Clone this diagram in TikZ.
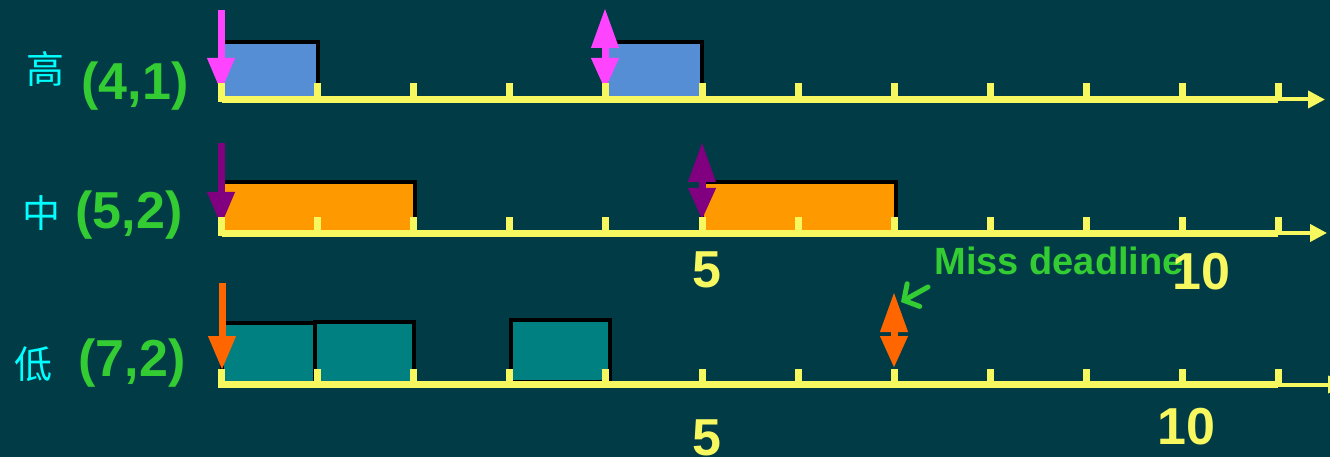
\documentclass[tikz,border=0pt]{standalone}
\usepackage{fontspec}
\setmainfont{Liberation Sans}
\newfontfamily\cjk{Noto Sans CJK SC}
\usepackage{tikz}
\usetikzlibrary{arrows.meta}
\definecolor{bgteal}{HTML}{003B46}
\definecolor{axyellow}{HTML}{F7F75F}
\definecolor{taskblue}{HTML}{558ED5}
\definecolor{taskorange}{HTML}{FF9900}
\definecolor{taskteal}{HTML}{008080}
\definecolor{evmagenta}{HTML}{FF44FF}
\definecolor{evpurple}{HTML}{800080}
\definecolor{evorange}{HTML}{FF6600}
\definecolor{lblgreen}{HTML}{33CC33}
\definecolor{lblcyan}{HTML}{00FFFF}

\begin{document}
\begin{tikzpicture}[x=1pt,y=-1pt,
  task/.style={draw=black,line width=3.5pt},
  axis/.style={axyellow,line width=7pt},
  tick/.style={fill=axyellow},
  rel/.style={line width=7pt,-{Triangle[length=34pt,width=26pt]}},
  dl/.style={line width=7pt,{Triangle[length=40pt,width=26pt]}-{Triangle[length=32pt,width=26pt]}},
  prio/.style={lblcyan,font=\cjk\fontsize{38}{38}\selectfont},
  param/.style={lblgreen,font=\bfseries\fontsize{52}{52}\selectfont,anchor=base},
  num/.style={axyellow,font=\bfseries\fontsize{52}{52}\selectfont,anchor=base}]
\fill[bgteal] (0,0) rectangle (1330,457);
\useasboundingbox (0,0) rectangle (1330,457);

% Tarefas
\filldraw[task,fill=taskblue] (222,42) rectangle (318,99);
\filldraw[task,fill=taskblue] (606,42) rectangle (702,99);
\filldraw[task,fill=taskorange] (222,182) rectangle (415,233);
\filldraw[task,fill=taskorange] (702,182) rectangle (896,233);
\filldraw[task,fill=taskteal] (222,323) rectangle (317,384);
\filldraw[task,fill=taskteal] (315,322) rectangle (414,383);
\filldraw[task,fill=taskteal] (511,320) rectangle (610,382);

% Chegadas e prazos
\draw[rel,evmagenta] (221,10) -- (221,92);
\draw[dl,evmagenta] (605,8) -- (605,90);
\draw[rel,evpurple] (221,143) -- (221,226);
\draw[dl,evpurple] (702,142) -- (702,220);
\draw[rel,evorange] (222,283) -- (222,370);
\draw[dl,evorange] (894,292) -- (894,368);

% Eixos
\foreach \y/\tip in {99.5/1325, 233/1327, 384.5/1345} {
  \draw[axis] (222,\y) -- (1278,\y);
  \draw[axyellow,line width=4pt,-{Triangle[length=17pt,width=17pt]}] (1276,\y) -- (\tip,\y);
  \fill[tick] (218,\y-16) rectangle (225,\y+3);
  \foreach \i in {1,...,11}
    \fill[tick] ({221.5+96.1*\i-3.5},\y-16) rectangle ({221.5+96.1*\i+3.5},\y);
}

% Rotulos
\node[prio] (hi) at (45,69) {高};
\node[prio] (mid) at (41,213) {中};
\node[prio] (lo) at (33,364) {低};
\node[param] (phi) at (135,100) {(4,1)};
\node[param] (pmid) at (129,228) {(5,2)};
\node[param] (plo) at (132,376) {(7,2)};
\node[lblgreen,font=\bfseries\fontsize{38}{38}\selectfont,anchor=base west] (miss) at (931,274) {Miss deadline};
\node[num] (five) at (707,287) {5};
\node[num] (ten) at (1201,289) {10};
\node[num] (fivelo) at (707,455) {5};
\node[num] (tenlo) at (1186,444) {10};
\coordinate (late) at (901,302);
\draw[lblgreen,line width=5pt,line cap=round,-{Straight Barb[length=11pt,width=26pt,line cap=round]}] (928,287) -- (late);
\end{tikzpicture}
\end{document}
